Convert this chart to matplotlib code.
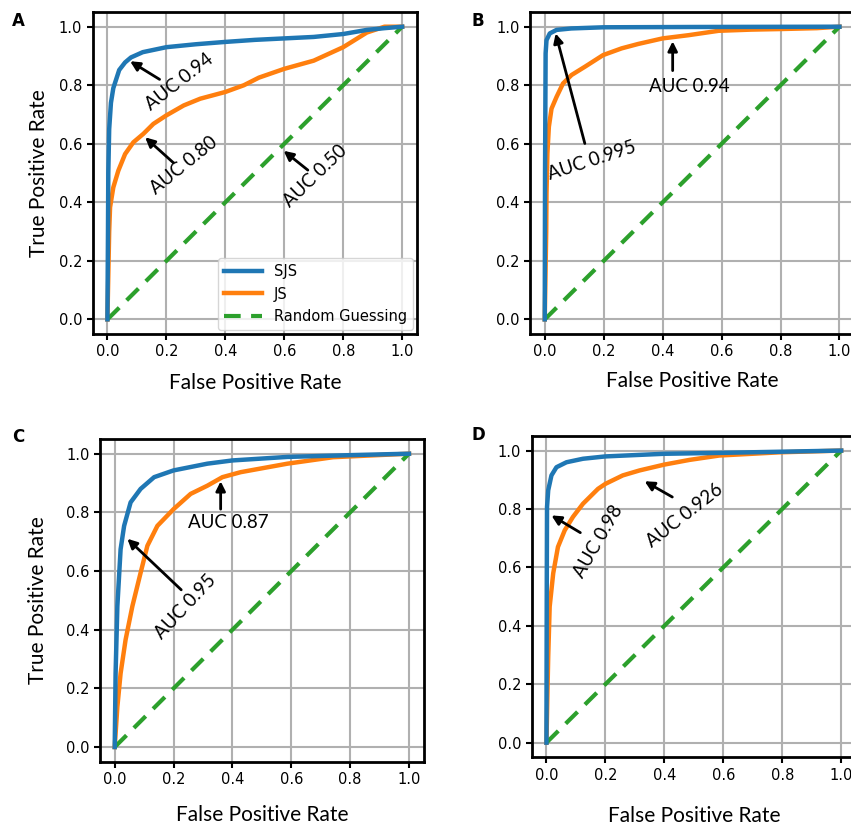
import matplotlib
matplotlib.use("Agg")
import matplotlib.pyplot as plt

# ---------------- data ----------------
# Panel A
a_sjs_fpr = [0, 0.002, 0.003, 0.006, 0.012, 0.02, 0.04, 0.06, 0.08, 0.12, 0.2, 0.3, 0.4, 0.5, 0.6, 0.7, 0.8, 0.88, 0.94, 1.0]
a_sjs_tpr = [0, 0.30, 0.50, 0.65, 0.74, 0.79, 0.852, 0.878, 0.895, 0.913, 0.93, 0.94, 0.948, 0.955, 0.96, 0.965, 0.975, 0.989, 0.995, 1.0]
a_js_fpr = [0, 0.004, 0.006, 0.009, 0.02, 0.037, 0.06, 0.088, 0.122, 0.156, 0.2, 0.259, 0.315, 0.4, 0.463, 0.514, 0.6, 0.7, 0.8, 0.88, 0.94, 1.0]
a_js_tpr = [0, 0.20, 0.30, 0.383, 0.451, 0.508, 0.565, 0.605, 0.634, 0.668, 0.697, 0.731, 0.754, 0.777, 0.80, 0.826, 0.856, 0.884, 0.93, 0.98, 1.0, 1.0]

# Panel B
b_sjs_fpr = [0, 0.001, 0.003, 0.006, 0.017, 0.04, 0.09, 0.2, 0.5, 1.0]
b_sjs_tpr = [0, 0.50, 0.909, 0.954, 0.977, 0.989, 0.994, 0.998, 0.999, 1.0]
b_js_fpr = [0, 0.005, 0.006, 0.009, 0.014, 0.023, 0.04, 0.062, 0.091, 0.136, 0.198, 0.261, 0.317, 0.4, 0.488, 0.59, 0.7, 0.8, 0.923, 1.0]
b_js_tpr = [0, 0.30, 0.43, 0.567, 0.658, 0.72, 0.76, 0.806, 0.835, 0.863, 0.903, 0.926, 0.941, 0.96, 0.971, 0.986, 0.99, 0.992, 0.995, 1.0]

# Panel C
c_sjs_fpr = [0, 0.003, 0.009, 0.02, 0.032, 0.054, 0.088, 0.134, 0.2, 0.315, 0.4, 0.587, 0.8, 1.0]
c_sjs_tpr = [0, 0.25, 0.48, 0.674, 0.754, 0.834, 0.88, 0.92, 0.943, 0.966, 0.977, 0.989, 0.995, 1.0]
c_js_fpr = [0, 0.009, 0.02, 0.037, 0.06, 0.088, 0.111, 0.145, 0.2, 0.258, 0.315, 0.366, 0.428, 0.587, 0.742, 1.0]
c_js_tpr = [0, 0.137, 0.251, 0.366, 0.48, 0.594, 0.686, 0.754, 0.811, 0.863, 0.891, 0.92, 0.937, 0.966, 0.988, 1.0]

# Panel D
d_sjs_fpr = [0, 0.001, 0.002, 0.006, 0.017, 0.034, 0.068, 0.124, 0.2, 0.4, 0.586, 1.0]
d_sjs_tpr = [0, 0.50, 0.807, 0.864, 0.915, 0.943, 0.96, 0.972, 0.98, 0.989, 0.992, 1.0]
d_js_fpr = [0, 0.003, 0.006, 0.011, 0.023, 0.039, 0.062, 0.09, 0.124, 0.175, 0.2, 0.259, 0.316, 0.4, 0.485, 0.586, 0.791, 1.0]
d_js_tpr = [0, 0.15, 0.295, 0.466, 0.58, 0.67, 0.727, 0.773, 0.818, 0.869, 0.886, 0.915, 0.932, 0.952, 0.968, 0.983, 0.994, 1.0]

random_fpr = [0, 1]
random_tpr = [0, 1]

series_labels = ["SJS", "JS", "Random Guessing"]
panel_letters = ["A", "B", "C", "D"]

# annotations: (text, text_xy, arrow_tail, arrow_tip, rotation)
a_notes = [("AUC 0.94", (0.243, 0.81), (0.177, 0.82), (0.077, 0.882), 38),
           ("AUC 0.80", (0.26, 0.525), (0.224, 0.535), (0.128, 0.622), 39),
           ("AUC 0.50", (0.706, 0.491), (0.68, 0.51), (0.598, 0.576), 44)]
b_notes = [("AUC 0.995", (0.161, 0.541), (0.136, 0.601), (0.037, 0.977), 18),
           ("AUC 0.94", (0.491, 0.794), (0.434, 0.85), (0.434, 0.95), 0)]
c_notes = [("AUC 0.87", (0.386, 0.764), (0.36, 0.811), (0.36, 0.906), 0),
           ("AUC 0.95", (0.24, 0.477), (0.226, 0.536), (0.043, 0.71), 47)]
d_notes = [("AUC 0.98", (0.175, 0.69), (0.115, 0.719), (0.017, 0.778), 60),
           ("AUC 0.926", (0.469, 0.778), (0.427, 0.841), (0.333, 0.895), 38)]

# ---------------- drawing ----------------
plt.rcParams['font.family'] = 'DejaVu Sans'
LABEL_FONT = 'Lato'
BLUE, ORANGE, GREEN = '#1f77b4', '#ff7f0e', '#2ca02c'

fig = plt.figure(figsize=(8.51, 8.26), dpi=100)

positions = [
    [0.1089, 0.5956, 0.381, 0.3898],
    [0.6228, 0.5956, 0.381, 0.3898],
    [0.1175, 0.0778, 0.3804, 0.3907],
    [0.6248, 0.0832, 0.381, 0.389],
]
letter_pos = [(0.022, 0.974), (0.562, 0.974), (0.022, 0.471), (0.562, 0.473)]
xlabel_pads = [10, 8, 13, 17]
ylabel_pads = [7, 7, 13, 7]

panels = [
    (a_sjs_fpr, a_sjs_tpr, a_js_fpr, a_js_tpr, a_notes),
    (b_sjs_fpr, b_sjs_tpr, b_js_fpr, b_js_tpr, b_notes),
    (c_sjs_fpr, c_sjs_tpr, c_js_fpr, c_js_tpr, c_notes),
    (d_sjs_fpr, d_sjs_tpr, d_js_fpr, d_js_tpr, d_notes),
]

for i, (sf, st, jf, jt, notes) in enumerate(panels):
    ax = fig.add_axes(positions[i])
    ax.grid(True, color='#b0b0b0', lw=1.5, zorder=0)
    ax.set_axisbelow(True)
    ax.plot(sf, st, color=BLUE, lw=3.2, label=series_labels[0], zorder=3)
    ax.plot(jf, jt, color=ORANGE, lw=3.2, label=series_labels[1], zorder=2)
    ax.plot(random_fpr, random_tpr, color=GREEN, lw=3, ls=(0, (4, 2.5)),
            label=series_labels[2], zorder=2)
    ax.set_xlim(-0.05, 1.05)
    ax.set_ylim(-0.05, 1.05)
    ax.set_xticks([0, 0.2, 0.4, 0.6, 0.8, 1.0])
    ax.set_yticks([0, 0.2, 0.4, 0.6, 0.8, 1.0])
    ax.tick_params(labelsize=10.5, width=1.5, length=4)
    for s in ax.spines.values():
        s.set_linewidth(2)
    ax.set_xlabel("False Positive Rate", fontsize=15, family=LABEL_FONT,
                  labelpad=xlabel_pads[i])
    if i in (0, 2):
        ax.set_ylabel("True Positive Rate", fontsize=15, family=LABEL_FONT,
                      labelpad=ylabel_pads[i])
    for txt, txy, tail, tip, rot in notes:
        ax.annotate('', xy=tip, xytext=tail,
                    arrowprops=dict(arrowstyle='-|>', color='black', lw=2,
                                    mutation_scale=14, shrinkA=0, shrinkB=0),
                    zorder=5)
        ax.text(txy[0], txy[1], txt, rotation=rot, rotation_mode='anchor',
                ha='center', va='center', fontsize=13.5, family=LABEL_FONT, zorder=6)
    if i == 0:
        ax.legend(loc='lower right', fontsize=10.5, handlelength=2.6,
                  borderaxespad=0.3, labelspacing=0.5)
    fig.text(letter_pos[i][0], letter_pos[i][1], panel_letters[i],
             fontsize=12, fontweight='bold', ha='center', va='center')

fig.savefig("out.png", dpi=100)
